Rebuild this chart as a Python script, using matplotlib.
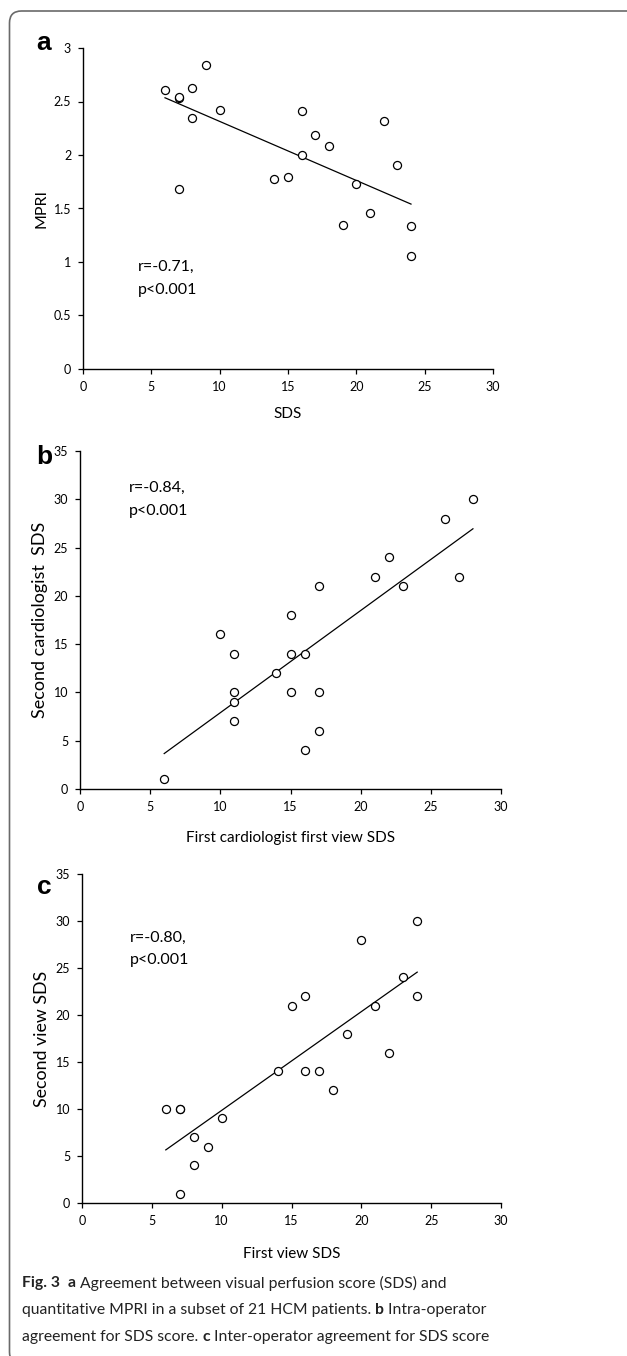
import numpy as np
import matplotlib
matplotlib.use('Agg')
import matplotlib.pyplot as plt
from matplotlib.patches import FancyBboxPatch
from matplotlib.ticker import FuncFormatter
from matplotlib.transforms import IdentityTransform

# Panel a: SDS vs MPRI
a_sds = [6, 7, 7, 7, 8, 8, 9, 10, 14, 15, 16, 16, 17, 18, 19, 20, 21, 22, 23, 24, 24]
a_mpri = [2.61, 2.53, 2.54, 1.68, 2.63, 2.35, 2.84, 2.42, 1.78, 1.79, 2.41, 2.00,
          2.19, 2.08, 1.35, 1.73, 1.46, 2.32, 1.91, 1.34, 1.06]

# Panel b: first cardiologist first view vs second cardiologist
b_first = [6, 10, 11, 11, 11, 11, 14, 15, 15, 15, 16, 16, 17, 17, 17, 21, 22, 23, 26, 27, 28]
b_second = [1, 16, 14, 10, 9, 7, 12, 18, 14, 10, 14, 4, 21, 10, 6, 22, 24, 21, 28, 22, 30]

# Panel c: first view vs second view
c_first = [6, 7, 7, 7, 8, 8, 9, 10, 14, 15, 16, 16, 17, 18, 19, 20, 21, 22, 23, 24, 24]
c_second = [10, 10, 10, 1, 7, 4, 6, 9, 14, 21, 22, 14, 14, 12, 18, 28, 21, 16, 24, 30, 22]

W, H = 627, 1356
AX_FONT = 'Lato'
CAP_FONT = 'Lato'


def px(x0, y0, x1, y1):
    """pixel box (top-left origin) -> figure fraction rect"""
    return [x0 / W, 1 - y1 / H, (x1 - x0) / W, (y1 - y0) / H]


def scatter_panel(ax, x, y, ylim, ystep, xlabel, ylabel, stats, stats_xy,
                  ylab_size, xpad):
    ax.plot(x, y, 'o', mfc='white', mec='black', ms=5.8, mew=0.9, zorder=3)
    # least squares line over data range
    k, b = np.polyfit(x, y, 1)
    xs = np.array([min(x), max(x)])
    ax.plot(xs, k * xs + b, color='black', lw=0.9, zorder=2)

    ax.set_xlim(0, 30)
    ax.set_ylim(0, ylim)
    ax.set_xticks(np.arange(0, 31, 5))
    ax.set_yticks(np.arange(0, ylim + 1e-9, ystep))
    ax.yaxis.set_major_formatter(FuncFormatter(lambda v, p: '{:g}'.format(v)))
    for s in ['top', 'right']:
        ax.spines[s].set_visible(False)
    for s in ['left', 'bottom']:
        ax.spines[s].set_linewidth(1.0)
    ax.tick_params(direction='out', length=3.5, width=0.9, labelsize=9, pad=5)
    for lab in ax.get_xticklabels() + ax.get_yticklabels():
        lab.set_family(AX_FONT)
    ax.set_xlabel(xlabel, fontsize=11, family=AX_FONT, labelpad=xpad)
    ax.set_ylabel(ylabel, fontsize=ylab_size, family=AX_FONT, labelpad=4)
    ax.text(stats_xy[0], stats_xy[1], stats, fontsize=11.5, family=AX_FONT,
            va='top', ha='left', linespacing=1.8)


fig = plt.figure(figsize=(W / 100, H / 100), dpi=100)

ax_a = fig.add_axes(px(83, 48, 493, 369))
scatter_panel(ax_a, a_sds, a_mpri, 3, 0.5, 'SDS', 'MPRI',
              'r=-0.71,\np<0.001', (4, 1.02), 11.5, 10)

ax_b = fig.add_axes(px(80, 451, 501, 789))
scatter_panel(ax_b, b_first, b_second, 35, 5,
              'First cardiologist first view SDS', 'Second cardiologist  SDS',
              'r=-0.84,\np<0.001', (3.5, 31.9), 13, 13)

ax_c = fig.add_axes(px(82, 874, 501, 1203))
scatter_panel(ax_c, c_first, c_second, 35, 5, 'First view SDS', 'Second view SDS',
              'r=-0.80,\np<0.001', (3.4, 29.0), 12.8, 14.5)

# panel letters
for letter, ypx in [('a', 43), ('b', 457), ('c', 887)]:
    fig.text(44 / W, 1 - ypx / H, letter, fontsize=19, fontweight='bold',
             family='Liberation Sans', ha='center', va='center')

# rounded frame around the figure (cut at right and bottom)
frame = FancyBboxPatch((9.5, -8), 660, H - 11 + 8,
                       boxstyle='round,pad=0,rounding_size=12',
                       transform=IdentityTransform(), fill=False,
                       ec='#6a6a6a', lw=1.2)
fig.patches.append(frame)

# caption with bold runs
caption = [
    [('Fig. 3', 'bold'), ('  ', 'normal'), ('a', 'bold'),
     (' Agreement between visual perfusion score (SDS) and', 'normal')],
    [('quantitative MPRI in a subset of 21 HCM patients. ', 'normal'), ('b', 'bold'),
     (' Intra-operator', 'normal')],
    [('agreement for SDS score. ', 'normal'), ('c', 'bold'),
     (' Inter-operator agreement for SDS score', 'normal')],
]
renderer = fig.canvas.get_renderer()
for line, ypx in zip(caption, [1283, 1310, 1337]):
    x = 22
    for txt, wt in line:
        t = fig.text(x / W, 1 - ypx / H, txt, fontsize=11.3, family=CAP_FONT,
                     fontweight=wt, va='center', ha='left', color='#222222')
        x += t.get_window_extent(renderer).width

fig.savefig('out.png', dpi=100)
